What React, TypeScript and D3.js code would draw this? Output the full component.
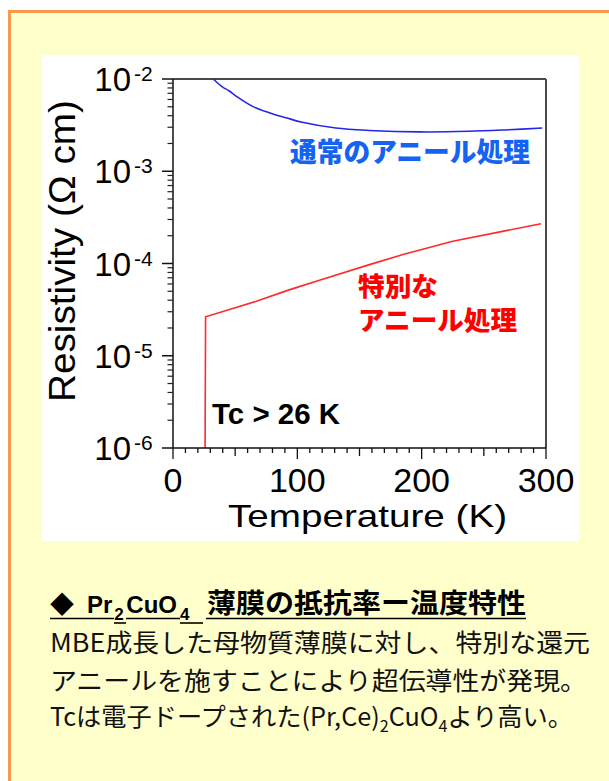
import React from "react";
import * as d3 from "d3";

// ---- data ----
const normalT = [32.3, 40, 45, 51, 64, 78, 91, 104, 131, 158, 198, 238, 270, 297];
const normalRho = [1.0e-2, 8.15e-3, 7.46e-3, 6.49e-3, 5.05e-3, 4.29e-3, 3.8e-3, 3.39e-3, 2.94e-3, 2.77e-3, 2.67e-3, 2.71e-3, 2.82e-3, 2.94e-3];
const specialT = [25.8, 26.2, 67, 94, 121, 158, 185, 225, 265, 296];
const specialRho = [1.0e-6, 2.64e-5, 3.89e-5, 5.21e-5, 6.81e-5, 9.72e-5, 1.25e-4, 1.74e-4, 2.23e-4, 2.7e-4];
const xTickValues = [0, 100, 200, 300];
const yTickExponents = [-2, -3, -4, -5, -6];

const xTitle = "Temperature (K)";
const yTitle = "Resistivity (Ω cm)";
const normalLabel = "通常のアニール処理";
const specialLabel1 = "特別な";
const specialLabel2 = "アニール処理";
const tcLabel = "Tc > 26 K";
const bodyLine1 = "MBE成長した母物質薄膜に対し、特別な還元";
const bodyLine2 = "アニールを施すことにより超伝導性が発現。";

const LAT = "'Liberation Sans', Arial, sans-serif";
const CJK = "'Noto Sans CJK JP', 'Noto Sans', sans-serif";

export default function App() {
  const left = 173, right = 546, top = 79, bottom = 448;
  const x = d3.scaleLinear().domain([0, 300]).range([left, right]);
  const y = d3.scaleLog().domain([1e-6, 1e-2]).range([bottom, top]);

  const normal = normalT.map((t, i) => [t, normalRho[i]] as [number, number]);
  const special = specialT.map((t, i) => [t, specialRho[i]] as [number, number]);

  const blueLine = d3.line<[number, number]>().x(d => x(d[0])).y(d => y(d[1])).curve(d3.curveCatmullRom.alpha(0.5))(normal) || "";
  const redLine = d3.line<[number, number]>().x(d => x(d[0])).y(d => y(d[1])).curve(d3.curveLinear)(special) || "";

  const yMinor = y.ticks().filter(v => {
    const e = Math.log10(v);
    return Math.abs(e - Math.round(e)) > 1e-6;
  });
  const xMinor = d3.range(0, 301, 10);

  return (
    <svg width={609} height={781} style={{ position: "absolute", left: 0, top: 0 }}>
      <rect x={0} y={0} width={609} height={781} fill="#ffffff" />
      <rect x={9.5} y={11.5} width={640} height={800} fill="#ffffcc" stroke="#f79a4c" strokeWidth={3} />
      <rect x={42} y={55} width={537} height={486} fill="#ffffff" />

      {/* frame */}
      <line x1={left} x2={right} y1={top} y2={top} stroke="#4a4a4a" strokeWidth={2} />
      <line x1={right} x2={right} y1={top} y2={bottom} stroke="#4a4a4a" strokeWidth={2} />

      {/* curves */}
      <path d={blueLine} fill="none" stroke="#2626e8" strokeWidth={1.6} />
      <path d={redLine} fill="none" stroke="#ff2a2a" strokeWidth={1.6} />

      {/* axes */}
      <line x1={left} x2={left} y1={top} y2={bottom} stroke="#111" strokeWidth={1.5} />
      <line x1={left} x2={right} y1={bottom} y2={bottom} stroke="#111" strokeWidth={1.5} />

      {yMinor.map((v, i) => (
        <line key={"ym" + i} x1={left - 5.5} x2={left} y1={y(v)} y2={y(v)} stroke="#222" strokeWidth={1.2} />
      ))}
      {yTickExponents.map(e => (
        <g key={"yt" + e}>
          <line x1={left - 11} x2={left} y1={y(Math.pow(10, e))} y2={y(Math.pow(10, e))} stroke="#111" strokeWidth={1.5} />
          <text x={131} y={y(Math.pow(10, e)) + 12} textAnchor="end" fontFamily={LAT} fontSize={33} fill="#000">10</text>
          <text x={134} y={y(Math.pow(10, e)) + 2} textAnchor="start" fontFamily={LAT} fontSize={21} fill="#000">{"-" + Math.abs(e)}</text>
        </g>
      ))}

      {xMinor.map(v => {
        const len = v % 100 === 0 ? 11 : v % 50 === 0 ? 8 : 5;
        return <line key={"xm" + v} x1={x(v)} x2={x(v)} y1={bottom} y2={bottom + len} stroke="#111" strokeWidth={1.3} />;
      })}
      {xTickValues.map(v => (
        <text key={"xt" + v} x={x(v)} y={492} textAnchor="middle" fontFamily={LAT} fontSize={34} fill="#000">{v}</text>
      ))}

      {/* axis titles */}
      <text x={228} y={527} fontFamily={LAT} fontSize={32} fill="#000" textLength={279} lengthAdjust="spacingAndGlyphs">{xTitle}</text>
      <text transform="translate(75,402) rotate(-90)" x={0} y={0} fontFamily={LAT} fontSize={37} fill="#000" textLength={302} lengthAdjust="spacingAndGlyphs">{yTitle}</text>

      {/* annotations */}
      <text x={290} y={162} fontFamily={CJK} fontWeight={900} fontSize={27} fill="#1463f2" textLength={240} lengthAdjust="spacingAndGlyphs">{normalLabel}</text>
      <text x={358} y={296} fontFamily={CJK} fontWeight={900} fontSize={26} fill="#ff0000" textLength={80} lengthAdjust="spacingAndGlyphs">{specialLabel1}</text>
      <text x={358} y={330} fontFamily={CJK} fontWeight={900} fontSize={26} fill="#ff0000" textLength={159} lengthAdjust="spacingAndGlyphs">{specialLabel2}</text>
      <text x={212} y={424} fontFamily={LAT} fontWeight={700} fontSize={29} fill="#000" textLength={128} lengthAdjust="spacingAndGlyphs">{tcLabel}</text>

      {/* caption title */}
      <text x={50} y={613} fontFamily={CJK} fontWeight={700} fontSize={24} fill="#000">◆</text>
      <text x={87} y={613} fontFamily={LAT} fontWeight={700} fontSize={24} fill="#000">
        <tspan>Pr</tspan>
        <tspan dx={2} dy={7} fontSize={17}>2</tspan>
        <tspan dx={2.5} dy={-7}>CuO</tspan>
        <tspan dx={3} dy={7} fontSize={17}>4</tspan>
      </text>
      <text x={207} y={613} fontFamily={CJK} fontWeight={700} fontSize={27} fill="#000" textLength={319} lengthAdjust="spacingAndGlyphs">薄膜の抵抗率ー温度特性</text>
      <line x1={50} x2={114} y1={618.5} y2={618.5} stroke="#000" strokeWidth={1.6} />
      <line x1={114} x2={126} y1={623} y2={623} stroke="#000" strokeWidth={1.6} />
      <line x1={126} x2={180} y1={618.5} y2={618.5} stroke="#000" strokeWidth={1.6} />
      <line x1={180} x2={203} y1={623} y2={623} stroke="#000" strokeWidth={1.6} />
      <line x1={206} x2={526} y1={618.5} y2={618.5} stroke="#000" strokeWidth={1.6} />

      {/* caption body */}
      <text x={50} y={652} fontFamily={CJK} fontSize={25} fill="#111" textLength={540} lengthAdjust="spacingAndGlyphs">{bodyLine1}</text>
      <text x={50} y={690} fontFamily={CJK} fontSize={25} fill="#111" textLength={537} lengthAdjust="spacingAndGlyphs">{bodyLine2}</text>
      <text x={50} y={726} fontFamily={CJK} fontSize={25} fill="#111" textLength={523} lengthAdjust="spacingAndGlyphs">
        <tspan>Tcは電子ドープされた(Pr,Ce)</tspan>
        <tspan fontSize={16} dy={6}>2</tspan>
        <tspan dy={-6}>CuO</tspan>
        <tspan fontSize={16} dy={6}>4</tspan>
        <tspan dy={-6}>より高い。</tspan>
      </text>
    </svg>
  );
}
